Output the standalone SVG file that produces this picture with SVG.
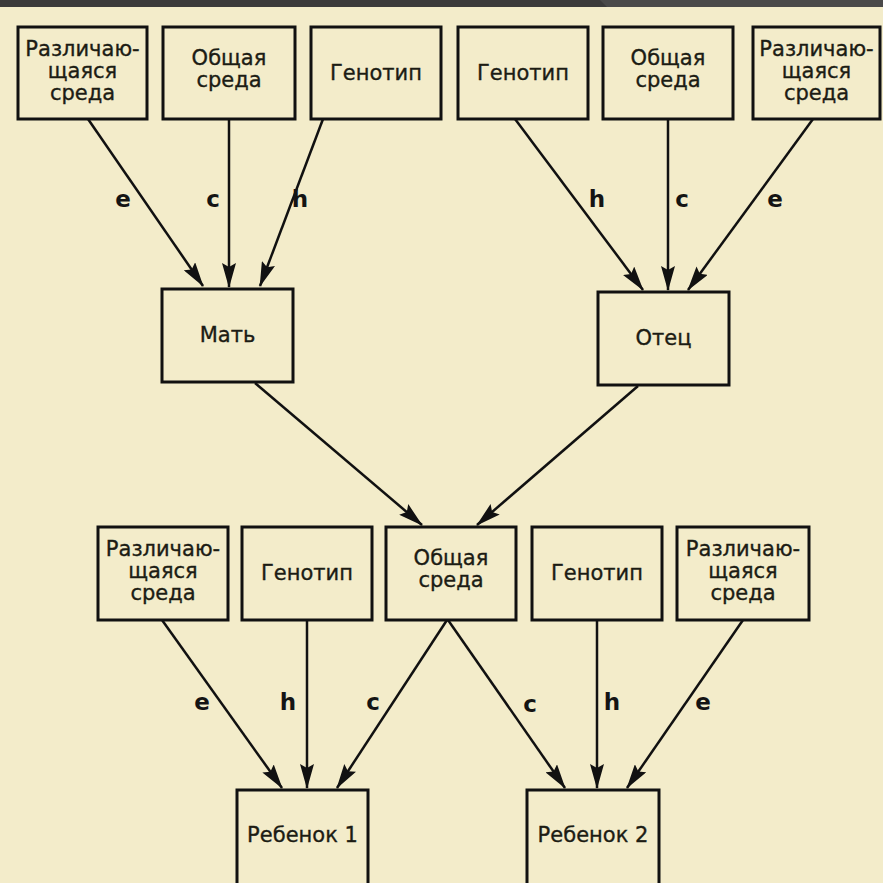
<svg xmlns="http://www.w3.org/2000/svg" width="883" height="883" viewBox="0 0 883 883">
  <defs>
    <style>
      .box { fill: none; stroke: #111; stroke-width: 3; }
      .lbl { font-family: "DejaVu Sans", Verdana, sans-serif; font-size: 21px; fill: #1c1c14; stroke: #1c1c14; stroke-width: 0.35; text-anchor: middle; }
      .coef { font-family: "DejaVu Sans", Verdana, sans-serif; font-size: 23px; font-weight: bold; fill: #141414; text-anchor: middle; }
      .edge { stroke: #111; stroke-width: 2.5; fill: none; marker-end: url(#head); }
    </style>
    <marker id="head" viewBox="0 0 25 14" markerWidth="25" markerHeight="14" refX="24" refY="7" orient="auto" markerUnits="userSpaceOnUse">
      <path d="M0,0 L25,7 L0,14 L4,7 Z" fill="#111"/>
    </marker>
  </defs>

  <!-- background and top strip -->
  <rect x="0" y="0" width="883" height="883" fill="#f3ecca"/>
  <rect x="0" y="0" width="883" height="7" fill="#3b3b3b"/>
  <path d="M600,0 L883,0 L883,7 L607,7 Z" fill="#4a4a4a"/>

  <!-- connectors -->
  <g id="connectors">
    <line class="edge" x1="88" y1="119" x2="203" y2="286"/>
    <line class="edge" x1="229" y1="119" x2="229" y2="287"/>
    <line class="edge" x1="323" y1="119" x2="260" y2="286"/>
    <line class="edge" x1="515" y1="119" x2="643" y2="290"/>
    <line class="edge" x1="668" y1="119" x2="668" y2="290"/>
    <line class="edge" x1="813" y1="119" x2="688" y2="290"/>
    <line class="edge" x1="255" y1="383" x2="422" y2="525"/>
    <line class="edge" x1="638" y1="386" x2="477" y2="525"/>
    <line class="edge" x1="162" y1="620" x2="282" y2="788"/>
    <line class="edge" x1="307" y1="620" x2="307" y2="788"/>
    <line class="edge" x1="447" y1="620" x2="337" y2="788"/>
    <line class="edge" x1="448" y1="620" x2="565" y2="788"/>
    <line class="edge" x1="597" y1="620" x2="597" y2="788"/>
    <line class="edge" x1="743" y1="620" x2="627" y2="788"/>
    <!-- path coefficients -->
    <text class="coef" x="123" y="207">e</text>
    <text class="coef" x="213" y="207">c</text>
    <text class="coef" x="300" y="207">h</text>
    <text class="coef" x="597" y="207">h</text>
    <text class="coef" x="682" y="207">c</text>
    <text class="coef" x="775" y="207">e</text>
    <text class="coef" x="202" y="710">e</text>
    <text class="coef" x="288" y="710">h</text>
    <text class="coef" x="373" y="710">c</text>
    <text class="coef" x="530" y="712">c</text>
    <text class="coef" x="612" y="710">h</text>
    <text class="coef" x="703" y="710">e</text>
  </g>

  <!-- mother's sources -->
  <g id="m-nonshared">
    <rect class="box" x="18" y="27" width="129" height="92"/>
    <text class="lbl" x="82.5" y="56">Различаю-</text>
    <text class="lbl" x="82.5" y="78">щаяся</text>
    <text class="lbl" x="82.5" y="100">среда</text>
  </g>
  <g id="m-shared">
    <rect class="box" x="163" y="27" width="132" height="92"/>
    <text class="lbl" x="229" y="65">Общая</text>
    <text class="lbl" x="229" y="87">среда</text>
  </g>
  <g id="m-genotype">
    <rect class="box" x="311" y="27" width="130" height="92"/>
    <text class="lbl" x="376" y="80">Генотип</text>
  </g>

  <!-- father's sources -->
  <g id="f-genotype">
    <rect class="box" x="458" y="27" width="130" height="92"/>
    <text class="lbl" x="523" y="80">Генотип</text>
  </g>
  <g id="f-shared">
    <rect class="box" x="603" y="27" width="130" height="92"/>
    <text class="lbl" x="668" y="65">Общая</text>
    <text class="lbl" x="668" y="87">среда</text>
  </g>
  <g id="f-nonshared">
    <rect class="box" x="753" y="27" width="127" height="92"/>
    <text class="lbl" x="816.5" y="56">Различаю-</text>
    <text class="lbl" x="816.5" y="78">щаяся</text>
    <text class="lbl" x="816.5" y="100">среда</text>
  </g>

  <!-- parents -->
  <g id="mother">
    <rect class="box" x="162" y="289" width="131" height="93"/>
    <text class="lbl" x="227.5" y="342">Мать</text>
  </g>
  <g id="father">
    <rect class="box" x="598" y="292" width="131" height="93"/>
    <text class="lbl" x="663.5" y="345">Отец</text>
  </g>

  <!-- children's sources -->
  <g id="c1-nonshared">
    <rect class="box" x="98" y="527" width="130" height="93"/>
    <text class="lbl" x="163" y="556">Различаю-</text>
    <text class="lbl" x="163" y="578">щаяся</text>
    <text class="lbl" x="163" y="600">среда</text>
  </g>
  <g id="c1-genotype">
    <rect class="box" x="242" y="527" width="130" height="93"/>
    <text class="lbl" x="307" y="580">Генотип</text>
  </g>
  <g id="shared-env">
    <rect class="box" x="386" y="527" width="130" height="93"/>
    <text class="lbl" x="451" y="565">Общая</text>
    <text class="lbl" x="451" y="587">среда</text>
  </g>
  <g id="c2-genotype">
    <rect class="box" x="532" y="527" width="130" height="93"/>
    <text class="lbl" x="597" y="580">Генотип</text>
  </g>
  <g id="c2-nonshared">
    <rect class="box" x="677" y="527" width="132" height="93"/>
    <text class="lbl" x="743" y="556">Различаю-</text>
    <text class="lbl" x="743" y="578">щаяся</text>
    <text class="lbl" x="743" y="600">среда</text>
  </g>

  <!-- children -->
  <g id="child1">
    <rect class="box" x="237" y="790" width="131" height="110"/>
    <text class="lbl" x="302.5" y="842">Ребенок 1</text>
  </g>
  <g id="child2">
    <rect class="box" x="527" y="790" width="132" height="110"/>
    <text class="lbl" x="593" y="842">Ребенок 2</text>
  </g>
</svg>
